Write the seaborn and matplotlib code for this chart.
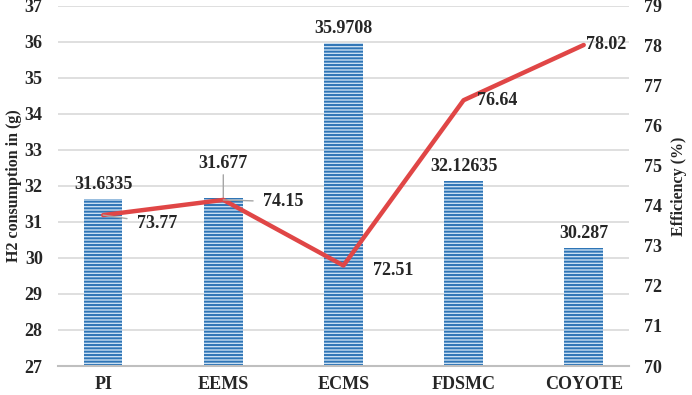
import matplotlib.pyplot as plt
import pandas as pd
import seaborn as sns

# chart values
methods = ['PI', 'EEMS', 'ECMS', 'FDSMC', 'COYOTE']
h2_consumption = [31.6335, 31.677, 35.9708, 32.12635, 30.287]
h2_labels = ['31.6335', '31.677', '35.9708', '32.12635', '30.287']
efficiency = [73.77, 74.15, 72.51, 76.64, 78.02]
eff_labels = ['73.77', '74.15', '72.51', '76.64', '78.02']

df = pd.DataFrame({'method': methods, 'h2': h2_consumption, 'eff': efficiency})

sns.set_style('white')
plt.rcParams['font.family'] = ['Liberation Serif', 'DejaVu Serif']
plt.rcParams['font.weight'] = 'bold'
plt.rcParams['hatch.color'] = '#2E75B6'
plt.rcParams['hatch.linewidth'] = 1.4

fig = plt.figure(figsize=(6.92, 3.95), dpi=100)
ax = fig.add_axes([0.0838, 0.0734, 0.825, 0.912])

sns.barplot(data=df, x='method', y='h2', ax=ax, color='#C9DFF2', width=0.32,
            saturation=1, edgecolor='none', zorder=2)
for p in ax.patches:
    p.set_hatch('-----')
    p.set_edgecolor('#2E75B6')
    p.set_linewidth(0)

ax.set_ylim(27, 37)
ax.set_yticks(range(27, 38))
ax.yaxis.grid(True, color='#D9D9D9', linewidth=1.2, zorder=0)
ax.set_axisbelow(True)
ax.set_xlabel('')
ax.set_ylabel('H2 consumption in (g)', fontsize=11.5, fontweight='bold', labelpad=2)
ax.tick_params(axis='both', length=0, labelsize=13)
ax.tick_params(axis='y', pad=11)
ax.tick_params(axis='x', pad=7)
for s in ['top', 'right', 'left']:
    ax.spines[s].set_visible(False)
ax.spines['bottom'].set_color('#BFBFBF')
ax.spines['bottom'].set_linewidth(1.5)

# bar labels; EEMS label sits higher with a leader line
bar_offsets = [(0, 6), (0, 26), (0, 6), (0, 6), (0, 6)]
for i, v in enumerate(h2_consumption):
    dx, dy = bar_offsets[i]
    ax.annotate(h2_labels[i], xy=(i, v), xytext=(dx, dy), textcoords='offset pixels',
                ha='center', va='bottom', fontsize=13, fontweight='bold',
                arrowprops=dict(arrowstyle='-', color='#A6A6A6', lw=1,
                                shrinkA=0, shrinkB=0) if dy > 10 else None)

ax2 = ax.twinx()
sns.lineplot(x=list(range(len(methods))), y=efficiency, ax=ax2, color='#E04646',
             linewidth=3.2, zorder=3)
ax2.set_ylim(70, 79)
ax2.set_yticks(range(70, 80))
ax2.set_ylabel('Efficiency (%)', fontsize=11.5, fontweight='bold', labelpad=6)
ax2.tick_params(axis='y', length=0, labelsize=13, pad=11)
for s in ['top', 'right', 'left', 'bottom']:
    ax2.spines[s].set_visible(False)

offsets = [(34, -8), (40, -2), (30, -5), (13, 0), (2, 0)]
leaders = [True, True, False, False, False]
for i, v in enumerate(efficiency):
    dx, dy = offsets[i]
    ax2.annotate(eff_labels[i], xy=(i, v), xytext=(dx, dy), textcoords='offset pixels',
                 ha='left', va='center', fontsize=13, fontweight='bold',
                 arrowprops=dict(arrowstyle='-', color='#A6A6A6', lw=1,
                                 shrinkA=5, shrinkB=0) if leaders[i] else None)

fig.savefig('out.png', dpi=100)
